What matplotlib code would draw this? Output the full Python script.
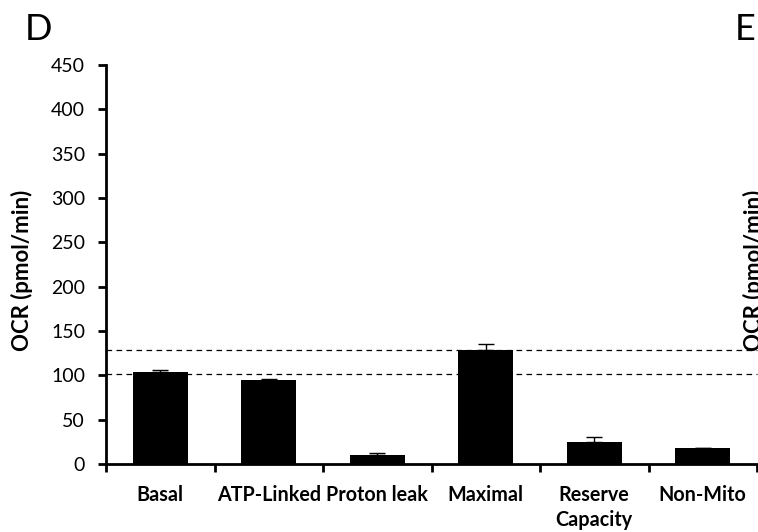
import matplotlib
matplotlib.use("Agg")
import matplotlib.pyplot as plt
import numpy as np

plt.rcParams['font.family'] = ['Lato', 'DejaVu Sans']

categories = ["Basal", "ATP-Linked", "Proton leak", "Maximal", "Reserve\nCapacity", "Non-Mito"]
ocr_values = [104, 94.5, 10, 129, 25, 17.5]
ocr_errors = [2.5, 1, 2, 6.5, 6, 0.5]
reference_levels = [102, 129]
y_ticks = [0, 50, 100, 150, 200, 250, 300, 350, 400, 450]

W, H = 758, 532
fig = plt.figure(figsize=(W / 100, H / 100), dpi=100)
ax = fig.add_axes([106 / W, 1 - 464 / H, (757 - 106) / W, (464 - 65) / H])

x = np.arange(len(categories))
ax.bar(x, ocr_values, width=0.51, color="black", zorder=3)
ax.errorbar(x, ocr_values, yerr=[np.zeros(len(ocr_errors)), ocr_errors],
            fmt="none", ecolor="black", elinewidth=1, capsize=5.5, capthick=1, zorder=2)

for lvl in reference_levels:
    ax.axhline(lvl, color="black", lw=0.9, dashes=(4.5, 3.5), zorder=1, clip_on=False)

ax.set_xlim(-0.5, len(categories) - 0.5)
ax.set_ylim(0, 450)
ax.set_yticks(y_ticks)
ax.set_yticklabels([str(t) for t in y_ticks], fontsize=14)
ax.set_xticks(np.arange(len(categories) + 1) - 0.5)
ax.set_xticklabels([])
ax.tick_params(axis="both", direction="out", length=6, width=2, color="black")
ax.tick_params(axis="y", pad=9)

for i, lab in enumerate(categories):
    ax.text(i, -24, lab, ha="center", va="top", fontsize=14.2, fontweight="bold",
            linespacing=1.3)

for side in ("top", "right"):
    ax.spines[side].set_visible(False)
for side in ("left", "bottom"):
    ax.spines[side].set_linewidth(2)

fig.text(22 / W, 1 - 270 / H, "OCR (pmol/min)", rotation=90, ha="center", va="center",
         fontsize=16, fontweight="bold")
fig.text(754 / W, 1 - 270 / H, "OCR (pmol/min)", rotation=90, ha="center", va="center",
         fontsize=16, fontweight="bold")
fig.text(38 / W, 1 - 29 / H, "D", ha="center", va="center", fontsize=26)
fig.text(745 / W, 1 - 29 / H, "E", ha="center", va="center", fontsize=26)

fig.savefig("out.png", dpi=100)
